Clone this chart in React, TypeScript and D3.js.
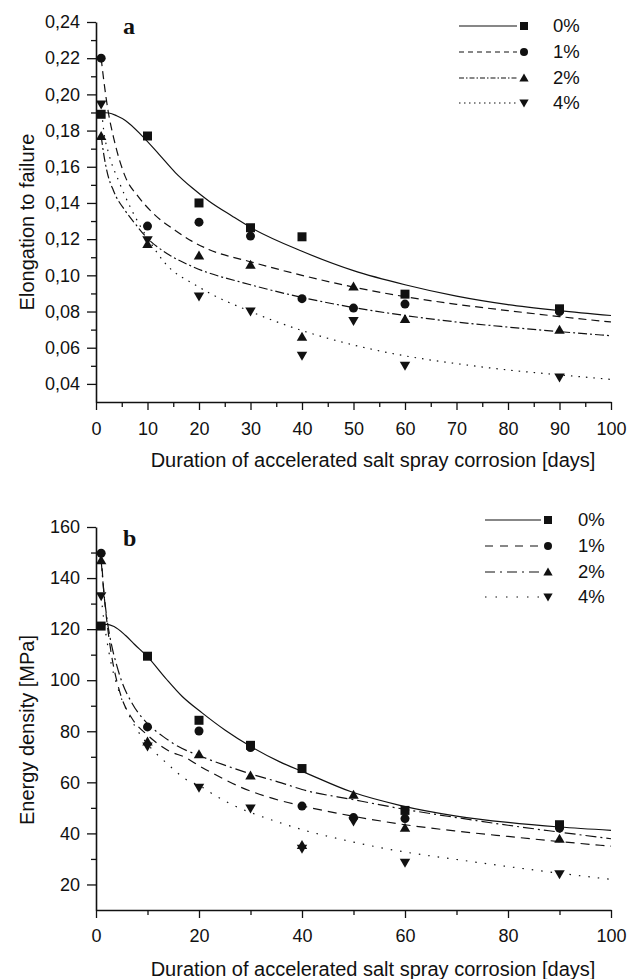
import React, { useRef, useEffect } from 'react';
import * as d3 from 'd3';

// ---- panel a : elongation to failure ----
const daysA0 = [1, 10, 20, 30, 40, 60, 90];
const elong0 = [0.189, 0.177, 0.140, 0.1263, 0.1213, 0.0896, 0.0815];
const daysAll = [1, 10, 20, 30, 40, 50, 60, 90];
const elong1 = [0.220, 0.1272, 0.1294, 0.1217, 0.0871, 0.0819, 0.0841, 0.080];
const elong2 = [0.177, 0.1174, 0.111, 0.1059, 0.0661, 0.0939, 0.0759, 0.070];
const elong4 = [0.1944, 0.1194, 0.0883, 0.080, 0.0556, 0.0748, 0.050, 0.0435];

// fitted curves
const fitA0x = [1, 2.5, 4, 5.7, 8.9, 12.2, 15.4, 18.6, 21.9, 26.4, 30, 40, 50, 60, 70, 80, 90, 100];
const fitA0y = [0.190, 0.1897, 0.1882, 0.1856, 0.1772, 0.167, 0.1568, 0.1485, 0.1411, 0.1328, 0.1265, 0.1133, 0.1026, 0.0948, 0.0885, 0.0838, 0.0805, 0.0778];
const fitA1x = [1, 1.55, 2.4, 3.4, 5.7, 8.1, 11.2, 15.4, 18.6, 21.9, 30, 40, 50, 60, 70, 80, 90, 100];
const fitA1y = [0.220, 0.2068, 0.190, 0.1763, 0.1544, 0.1439, 0.134, 0.1248, 0.1189, 0.1143, 0.1075, 0.100, 0.0935, 0.0882, 0.084, 0.0805, 0.0772, 0.0742];
const fitA2x = [1, 1.5, 2.1, 3.4, 5.7, 7.6, 9.9, 14.1, 18.6, 30, 40, 50, 60, 70, 80, 90, 100];
const fitA2y = [0.177, 0.167, 0.1578, 0.1467, 0.1356, 0.1285, 0.1207, 0.1115, 0.105, 0.0948, 0.0878, 0.0822, 0.0778, 0.0742, 0.0714, 0.0689, 0.0666];
const fitA4x = [1, 1.5, 2.5, 4.4, 6.7, 8.6, 10.2, 13.1, 20, 30, 40, 50, 60, 70, 80, 90, 100];
const fitA4y = [0.194, 0.180, 0.167, 0.1522, 0.1374, 0.1272, 0.1198, 0.1078, 0.0935, 0.080, 0.0695, 0.0615, 0.0555, 0.0512, 0.0477, 0.045, 0.0425];

// ---- panel b : energy density ----
const daysB0 = [1, 10, 20, 30, 40, 60, 90];
const energy0 = [121.2, 109.4, 84.3, 74.5, 65.4, 49.0, 43.4];
const energy1 = [149.7, 81.7, 80.1, 73.6, 50.7, 46.2, 45.8, 42.1];
const energy2 = [147, 76, 71.0, 62.7, 35.5, 55.2, 42.2, 37.9];
const energy4 = [132.9, 74, 57.9, 49.7, 34, 44.6, 28.5, 24.0];

const fitB0x = [1, 2, 3.5, 5.7, 7.5, 9.9, 13.5, 16.7, 20.6, 25.1, 30, 35.7, 40.4, 49.7, 59, 70, 80, 90, 100];
const fitB0y = [121.6, 121.9, 121.0, 117.6, 114, 109.4, 100.8, 93.7, 87.2, 80.4, 74.1, 68.0, 64.0, 56.2, 51.0, 46.8, 44.3, 42.5, 41.2];
const fitB1x = [1, 1.5, 2, 3, 4, 5, 7, 10, 14, 17.6, 20, 22.8, 28, 35.7, 40, 50, 60, 70, 80, 90, 100];
const fitB1y = [149.7, 135, 125, 110, 100, 93, 85, 78.5, 72.5, 69.5, 66.5, 63.4, 58.2, 52.9, 50.8, 46.7, 43.4, 40.9, 38.8, 36.8, 35.0];
const fitB2x = [1, 1.5, 2, 3, 4, 5, 7, 10, 13, 16, 20, 26, 30, 36, 40, 50, 60, 70, 80, 90, 100];
const fitB2y = [147, 135, 126, 114, 106, 99.5, 91, 83, 78, 74, 70.5, 66, 63.3, 59.8, 57.2, 53.2, 49.4, 46.2, 43.2, 40.5, 37.9];
const fitB4x = [1, 1.5, 2, 3, 4, 5, 6, 8, 10, 14, 18, 20, 23, 28, 30, 36, 40, 50, 60, 70, 80, 90, 100];
const fitB4y = [132.9, 124, 117, 106, 98.5, 92.5, 88, 80.5, 75, 67, 60.5, 58.8, 55, 49.8, 48.2, 44, 41.5, 36.6, 32.7, 29.8, 27.0, 24.4, 22.0];

const seriesLabels = ['0%', '1%', '2%', '4%'];
const shapes = ['square', 'circle', 'up', 'down'];

const FONT = '"Liberation Sans", Arial, Helvetica, sans-serif';

function markerPath(kind, cx, cy, s) {
  const h = s / 2;
  if (kind === 'square') return `M${cx - h},${cy - h}h${s}v${s}h${-s}Z`;
  if (kind === 'circle') {
    const p = d3.path();
    p.arc(cx, cy, h, 0, Math.PI * 2);
    return p.toString();
  }
  const w = s * 0.58;
  if (kind === 'up') return `M${cx},${cy - s * 0.55}L${cx + w},${cy + s * 0.45}L${cx - w},${cy + s * 0.45}Z`;
  return `M${cx},${cy + s * 0.55}L${cx + w},${cy - s * 0.45}L${cx - w},${cy - s * 0.45}Z`;
}

function Panel({ cfg }) {
  const gRef = useRef();

  useEffect(() => {
    const g = d3.select(gRef.current);
    g.selectAll('*').remove();

    const x = d3.scaleLinear().domain([0, 100]).range([96, 611]);
    const y = d3.scaleLinear().domain(cfg.yDomain).range([cfg.bottom, cfg.top]);

    // curves
    const line = d3.line().x(d => x(d[0])).y(d => y(d[1])).curve(d3.curveMonotoneX);
    cfg.series.forEach(s => {
      g.append('path')
        .datum(d3.zip(s.fitX, s.fitY))
        .attr('d', line)
        .attr('fill', 'none')
        .attr('stroke', '#111')
        .attr('stroke-width', 1.2)
        .attr('stroke-dasharray', s.dash);
    });

    // markers
    cfg.series.forEach(s => {
      g.append('g')
        .selectAll('path')
        .data(d3.zip(s.x, s.y))
        .join('path')
        .attr('d', d => markerPath(s.shape, x(d[0]), y(d[1]), 9))
        .attr('fill', '#111');
    });

    // axes
    const xAxis = g.append('g')
      .attr('transform', `translate(0,${cfg.bottom})`)
      .call(d3.axisBottom(x).tickValues(cfg.xTicks).tickSize(8).tickSizeOuter(0).tickPadding(cfg.xPad));
    g.append('g')
      .attr('transform', `translate(0,${cfg.bottom})`)
      .call(d3.axisBottom(x).tickValues(cfg.xMinor).tickSize(5).tickFormat(() => ''))
      .call(a => a.select('.domain').remove());
    const yAxis = g.append('g')
      .attr('transform', 'translate(96,0)')
      .call(d3.axisLeft(y).tickValues(cfg.yTicks).tickSize(9).tickSizeOuter(0).tickPadding(7).tickFormat(cfg.fmt));
    g.append('g')
      .attr('transform', 'translate(96,0)')
      .call(d3.axisLeft(y).tickValues(cfg.yMinor).tickSize(5).tickFormat(() => ''))
      .call(a => a.select('.domain').remove());

    g.selectAll('.domain').attr('stroke', '#111').attr('stroke-width', 1.6);
    g.selectAll('.tick line').attr('stroke', '#111').attr('stroke-width', 1.3);
    [xAxis, yAxis].forEach(a => a.attr('font-family', FONT).attr('font-size', 18));
    g.selectAll('.tick text').attr('fill', '#111');

    // titles
    g.append('text')
      .attr('x', 373).attr('y', cfg.xTitleY)
      .attr('text-anchor', 'middle')
      .attr('font-family', FONT).attr('font-size', 20).attr('fill', '#111')
      .text('Duration of accelerated salt spray corrosion [days]');
    g.append('text')
      .attr('transform', `translate(34,${cfg.yTitleCenter}) rotate(-90)`)
      .attr('text-anchor', 'middle')
      .attr('font-family', FONT).attr('font-size', 20).attr('fill', '#111')
      .text(cfg.yTitle);
    g.append('text')
      .attr('x', 123).attr('y', cfg.letterY)
      .attr('font-family', '"Liberation Serif", "Times New Roman", serif')
      .attr('font-weight', 'bold').attr('font-size', 24).attr('fill', '#111')
      .text(cfg.letter);

    // legend
    const lg = cfg.legend;
    cfg.series.forEach((s, i) => {
      const ly = lg.rows[i];
      g.append('line')
        .attr('x1', lg.x1).attr('x2', lg.x2).attr('y1', ly).attr('y2', ly)
        .attr('stroke', '#111').attr('stroke-width', 1.2)
        .attr('stroke-dasharray', s.legendDash);
      g.append('path')
        .attr('d', markerPath(s.shape, lg.mx, ly, 8))
        .attr('fill', '#111');
      g.append('text')
        .attr('x', lg.tx).attr('y', ly).attr('dy', '0.35em')
        .attr('font-family', FONT).attr('font-size', 18.5).attr('fill', '#111')
        .text(s.label);
    });
  }, [cfg]);

  return <g ref={gRef} />;
}

const commaFmt = d => d3.format('.2f')(d).replace('.', ',');

const panelA = {
  top: 22, bottom: 402, yDomain: [0.03, 0.24],
  yTicks: d3.range(4, 25, 2).map(v => v / 100),
  yMinor: d3.range(5, 24, 2).map(v => v / 100),
  xTicks: d3.range(0, 101, 10),
  xMinor: d3.range(5, 100, 10),
  xPad: 12, xTitleY: 467, yTitle: 'Elongation to failure', yTitleCenter: 222,
  letter: 'a', letterY: 34, fmt: commaFmt,
  legend: { rows: [26, 52, 78, 103], x1: 459, x2: 517, mx: 524, tx: 553 },
  series: [
    { x: daysA0, y: elong0, fitX: fitA0x, fitY: fitA0y, dash: null, legendDash: null },
    { x: daysAll, y: elong1, fitX: fitA1x, fitY: fitA1y, dash: '8,5', legendDash: '5,4' },
    { x: daysAll, y: elong2, fitX: fitA2x, fitY: fitA2y, dash: '9,3,2,3', legendDash: '5,2,1.5,2' },
    { x: daysAll, y: elong4, fitX: fitA4x, fitY: fitA4y, dash: '1.5,6', legendDash: '1.5,3.5' },
  ].map((s, i) => ({ ...s, shape: shapes[i], label: seriesLabels[i] })),
};

const panelB = {
  top: 527, bottom: 910, yDomain: [10, 160],
  yTicks: d3.range(20, 161, 20),
  yMinor: d3.range(30, 160, 20),
  xTicks: d3.range(0, 101, 20),
  xMinor: d3.range(10, 100, 20),
  xPad: 11, xTitleY: 976, yTitle: 'Energy density [MPa]', yTitleCenter: 730,
  letter: 'b', letterY: 546, fmt: d3.format('d'),
  legend: { rows: [520, 546, 572, 597], x1: 485, x2: 541, mx: 548, tx: 578 },
  series: [
    { x: daysB0, y: energy0, fitX: fitB0x, fitY: fitB0y, dash: null, legendDash: null },
    { x: daysAll, y: energy1, fitX: fitB1x, fitY: fitB1y, dash: '9,6', legendDash: '8,7' },
    { x: daysAll, y: energy2, fitX: fitB2x, fitY: fitB2y, dash: '11,4,2,4', legendDash: '10,5,2,5' },
    { x: daysAll, y: energy4, fitX: fitB4x, fitY: fitB4y, dash: '1.5,8', legendDash: '1.5,9' },
  ].map((s, i) => ({ ...s, shape: shapes[i], label: seriesLabels[i] })),
};

export default function App() {
  return (
    <div style={{ position: 'absolute', left: 0, top: 0, background: '#fff' }}>
      <svg width={629} height={979} style={{ display: 'block' }}>
        <rect width={629} height={979} fill="#fff" />
        <Panel cfg={panelA} />
        <Panel cfg={panelB} />
      </svg>
    </div>
  );
}
